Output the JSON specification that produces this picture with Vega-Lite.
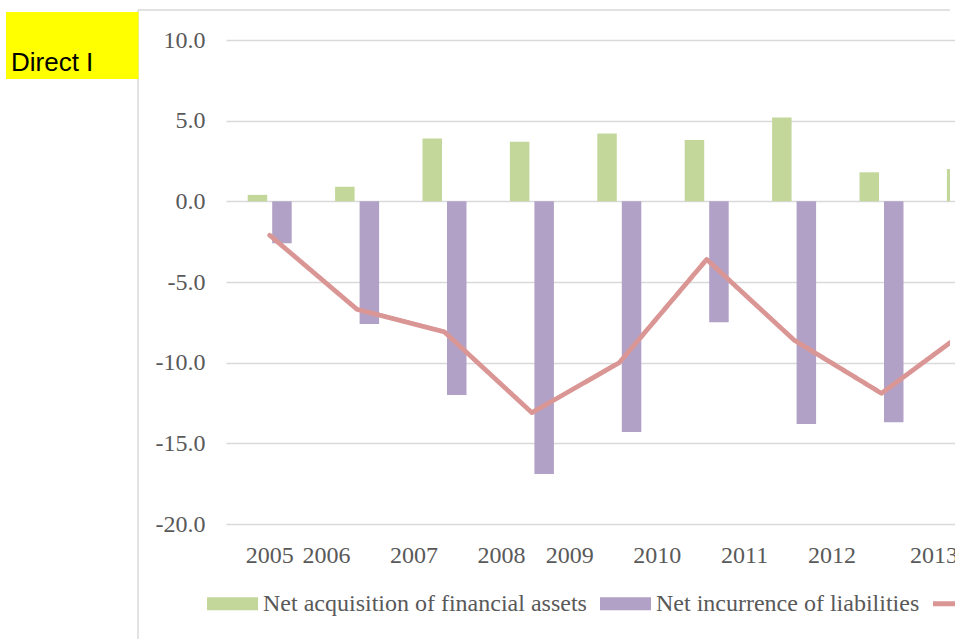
{
  "$schema": "https://vega.github.io/schema/vega-lite/v6.json",
  "autosize": {"type": "none"},
  "padding": {"left": 138, "top": 10, "right": 5, "bottom": 0},
  "width": 812,
  "height": 629,
  "background": "#ffffff",
  "config": {
    "view": {"stroke": "#d9d9d9", "strokeWidth": 1.5, "strokeDash": [812, 1441, 629, 0]},
    "font": "Liberation Serif"
  },
  "data": {
    "values": [
      {"year": "2005", "series": "Net acquisition of financial assets", "value": 0.4},
      {"year": "2006", "series": "Net acquisition of financial assets", "value": 0.9},
      {"year": "2007", "series": "Net acquisition of financial assets", "value": 3.9},
      {"year": "2008", "series": "Net acquisition of financial assets", "value": 3.7},
      {"year": "2009", "series": "Net acquisition of financial assets", "value": 4.2},
      {"year": "2010", "series": "Net acquisition of financial assets", "value": 3.8},
      {"year": "2011", "series": "Net acquisition of financial assets", "value": 5.2},
      {"year": "2012", "series": "Net acquisition of financial assets", "value": 1.8},
      {"year": "2013", "series": "Net acquisition of financial assets", "value": 2.0},
      {"year": "2005", "series": "Net incurrence of liabilities", "value": -2.6},
      {"year": "2006", "series": "Net incurrence of liabilities", "value": -7.6},
      {"year": "2007", "series": "Net incurrence of liabilities", "value": -12.0},
      {"year": "2008", "series": "Net incurrence of liabilities", "value": -16.9},
      {"year": "2009", "series": "Net incurrence of liabilities", "value": -14.3},
      {"year": "2010", "series": "Net incurrence of liabilities", "value": -7.5},
      {"year": "2011", "series": "Net incurrence of liabilities", "value": -13.8},
      {"year": "2012", "series": "Net incurrence of liabilities", "value": -13.7},
      {"year": "2013", "series": "Net incurrence of liabilities", "value": -9.9},
      {"year": "2005", "series": "Balance", "value": -2.1},
      {"year": "2006", "series": "Balance", "value": -6.7},
      {"year": "2007", "series": "Balance", "value": -8.1},
      {"year": "2008", "series": "Balance", "value": -13.1},
      {"year": "2009", "series": "Balance", "value": -10.0},
      {"year": "2010", "series": "Balance", "value": -3.6},
      {"year": "2011", "series": "Balance", "value": -8.6},
      {"year": "2012", "series": "Balance", "value": -11.9},
      {"year": "2013", "series": "Balance", "value": -7.9}
    ]
  },
  "layer": [
    {
      "transform": [{"filter": "datum.series != 'Balance'"}],
      "mark": {"type": "bar", "clip": true},
      "encoding": {
        "x": {
          "field": "year",
          "type": "nominal",
          "scale": {"range": [88, 874.6], "paddingInner": 0.4966, "paddingOuter": 0.2483},
          "axis": {
            "orient": "bottom",
            "offset": -96,
            "domain": false,
            "ticks": false,
            "grid": false,
            "labelAngle": 0,
            "labelPadding": 0,
            "labelOverlap": false,
            "labelFont": "Liberation Serif",
            "labelFontSize": 24,
            "labelColor": "#595959",
            "labelOffset": {"expr": "datum.value == '2005' ? 0 : (datum.value == '2006' || datum.value == '2007' || datum.value == '2008') ? -30.5 : datum.value == '2013' ? -35 : -49.5"},
            "title": null
          }
        },
        "xOffset": {
          "field": "series",
          "type": "nominal",
          "sort": ["Net acquisition of financial assets", "Net incurrence of liabilities"],
          "scale": {"paddingInner": 0.204, "paddingOuter": 0}
        },
        "y": {
          "field": "value",
          "type": "quantitative",
          "scale": {"domain": [-20, 10], "range": [514, 30], "nice": false, "zero": false},
          "axis": {
            "values": [-20, -15, -10, -5, 0, 5, 10],
            "domain": false,
            "ticks": false,
            "grid": true,
            "gridColor": "#d9d9d9",
            "gridWidth": 1.5,
            "labelFont": "Liberation Serif",
            "labelFontSize": 24,
            "labelColor": "#595959",
            "labelPadding": -67,
            "labelExpr": "datum.value < 0 ? '-' + format(-datum.value, '.1f') : format(datum.value, '.1f')",
            "title": null
          }
        },
        "color": {
          "field": "series",
          "type": "nominal",
          "scale": {
            "domain": ["Net acquisition of financial assets", "Net incurrence of liabilities", "Balance"],
            "range": ["#c4d79b", "#b2a1c7", "#da9694"]
          },
          "legend": {
            "orient": "none",
            "legendX": 69,
            "legendY": 568,
            "direction": "horizontal",
            "columns": 3,
            "title": null,
            "padding": 0,
            "symbolType": "M-1,-0.255H1V0.255H-1Z",
            "symbolSize": 2601,
            "symbolStrokeWidth": 0,
            "labelFont": "Liberation Serif",
            "labelFontSize": 24,
            "labelColor": "#595959",
            "labelOffset": 5,
            "labelLimit": 0,
            "columnPadding": 13,
            "encode": {
              "symbols": {
                "update": {
                  "shape": {"signal": "datum.value === 'Balance' ? 'M-1,-0.1H1V0.1H-1Z' : 'M-1,-0.255H1V0.255H-1Z'"},
                  "fill": {"signal": "scale('color', datum.value)"},
                  "strokeWidth": {"value": 0}
                }
              }
            }
          }
        }
      }
    },
    {
      "transform": [{"filter": "datum.series == 'Balance'"}],
      "mark": {"type": "line", "clip": true, "strokeWidth": 4.75, "strokeCap": "round", "strokeJoin": "round"},
      "encoding": {
        "x": {"field": "year", "type": "nominal"},
        "y": {"field": "value", "type": "quantitative"},
        "color": {"field": "series", "type": "nominal"},
        "strokeDash": {
          "datum": "Direct I",
          "type": "nominal",
          "scale": {"range": [[1, 0]]},
          "legend": {
            "orient": "none",
            "legendX": -143,
            "legendY": 48,
            "title": null,
            "padding": 0,
            "symbolType": "M-1,-29.5H65.25V4H-1Z",
            "symbolSize": 16,
            "symbolFillColor": "#ffff00",
            "symbolStrokeWidth": 0,
            "symbolOpacity": 1,
            "labelBaseline": "alphabetic",
            "labelFont": "Liberation Sans",
            "labelFontSize": 26,
            "labelColor": "#000000",
            "labelOffset": -10,
            "labelLimit": 0,
            "encode": {
              "symbols": {
                "update": {
                  "fill": {"value": "#ffff00"},
                  "strokeWidth": {"value": 0}
                }
              }
            }
          }
        }
      }
    }
  ]
}
